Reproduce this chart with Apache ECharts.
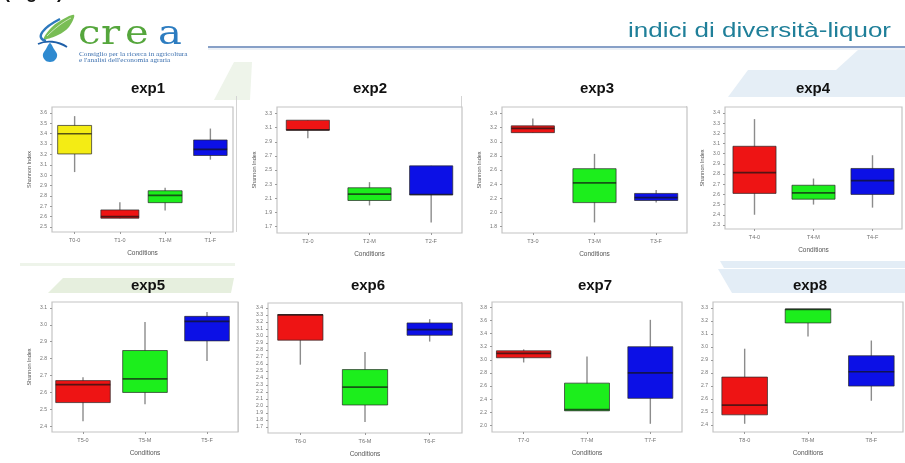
<!DOCTYPE html>
<html>
<head>
<meta charset="utf-8">
<title>indici di diversità-liquor</title>
<script src="https://cdn.jsdelivr.net/npm/echarts@6/dist/echarts.min.js"></script>
<style>
  html, body { margin: 0; padding: 0; background: #ffffff; }
  #chart { width: 905px; height: 463px; }
</style>
</head>
<body>
<div id="chart"></div>
<script>
// Shannon index per condition, one row per box:
// [lower whisker, Q1, median, Q3, upper whisker]
const exp1Conditions = ['T0-0', 'T1-0', 'T1-M', 'T1-F'];
const exp1Stats = [
  [3.03, 3.205, 3.40, 3.48, 3.57],
  [2.585, 2.585, 2.60, 2.665, 2.74],
  [2.66, 2.735, 2.806, 2.85, 2.88],
  [3.15, 3.19, 3.25, 3.34, 3.45]
];
const exp1Ticks = [2.5, 2.6, 2.7, 2.8, 2.9, 3.0, 3.1, 3.2, 3.3, 3.4, 3.5, 3.6];

const exp2Conditions = ['T2-0', 'T2-M', 'T2-F'];
const exp2Stats = [
  [2.95, 3.065, 3.07, 3.206, 3.206],
  [2.00, 2.07, 2.16, 2.25, 2.33],
  [1.76, 2.15, 2.155, 2.56, 2.56]
];
const exp2Ticks = [1.7, 1.9, 2.1, 2.3, 2.5, 2.7, 2.9, 3.1, 3.3];

const exp3Conditions = ['T3-0', 'T3-M', 'T3-F'];
const exp3Stats = [
  [3.13, 3.13, 3.19, 3.226, 3.33],
  [1.86, 2.14, 2.42, 2.62, 2.83],
  [2.14, 2.17, 2.21, 2.27, 2.32]
];
const exp3Ticks = [1.8, 2.0, 2.2, 2.4, 2.6, 2.8, 3.0, 3.2, 3.4];

const exp4Conditions = ['T4-0', 'T4-M', 'T4-F'];
const exp4Stats = [
  [2.40, 2.61, 2.815, 3.073, 3.34],
  [2.50, 2.553, 2.616, 2.69, 2.756],
  [2.47, 2.60, 2.735, 2.855, 2.985]
];
const exp4Ticks = [2.3, 2.4, 2.5, 2.6, 2.7, 2.8, 2.9, 3.0, 3.1, 3.2, 3.3, 3.4];

const exp5Conditions = ['T5-0', 'T5-M', 'T5-F'];
const exp5Stats = [
  [2.43, 2.54, 2.646, 2.67, 2.69],
  [2.53, 2.60, 2.68, 2.848, 3.017],
  [2.786, 2.905, 3.02, 3.05, 3.076]
];
const exp5Ticks = [2.4, 2.5, 2.6, 2.7, 2.8, 2.9, 3.0, 3.1];

const exp6Conditions = ['T6-0', 'T6-M', 'T6-F'];
const exp6Stats = [
  [2.59, 2.94, 3.30, 3.305, 3.305],
  [1.77, 2.014, 2.27, 2.52, 2.77],
  [2.92, 3.01, 3.09, 3.186, 3.24]
];
const exp6Ticks = [1.7, 1.8, 1.9, 2.0, 2.1, 2.2, 2.3, 2.4, 2.5, 2.6, 2.7, 2.8, 2.9, 3.0, 3.1, 3.2, 3.3, 3.4];

const exp7Conditions = ['T7-0', 'T7-M', 'T7-F'];
const exp7Stats = [
  [2.96, 3.032, 3.10, 3.138, 3.16],
  [2.223, 2.223, 2.24, 2.645, 3.05],
  [2.025, 2.413, 2.80, 3.20, 3.61]
];
const exp7Ticks = [2.0, 2.2, 2.4, 2.6, 2.8, 3.0, 3.2, 3.4, 3.6, 3.8];

const exp8Conditions = ['T8-0', 'T8-M', 'T8-F'];
const exp8Stats = [
  [2.41, 2.479, 2.554, 2.769, 2.987],
  [3.08, 3.185, 3.29, 3.292, 3.292],
  [2.587, 2.70, 2.81, 2.933, 3.05]
];
const exp8Ticks = [2.4, 2.5, 2.6, 2.7, 2.8, 2.9, 3.0, 3.1, 3.2, 3.3];

// ---------------------------------------------------------------------------
// Panel layout and styling
const FILL = { control: '#f4ec14', base: '#ee1414', M: '#1cee1c', F: '#0c10e6' };
function fillFor(cond) {
  if (cond === 'T0-0') return FILL.control;
  const s = cond.slice(-1);
  return s === 'M' ? FILL.M : s === 'F' ? FILL.F : FILL.base;
}

const panels = [
  { title: 'exp1', cond: exp1Conditions, stats: exp1Stats, ticks: exp1Ticks,
    grid: { left: 52, top: 107, width: 181, height: 125 }, min: 2.452, max: 3.658,
    yName: true, titleX: 148, titleY: 89, boxW: [0.75, 0.84, 0.75, 0.74] },
  { title: 'exp2', cond: exp2Conditions, stats: exp2Stats, ticks: exp2Ticks,
    grid: { left: 277, top: 107, width: 185, height: 126 }, min: 1.61, max: 3.393,
    yName: true, titleX: 370, titleY: 89, boxW: [0.7, 0.7, 0.7] },
  { title: 'exp3', cond: exp3Conditions, stats: exp3Stats, ticks: exp3Ticks,
    grid: { left: 502, top: 107, width: 185, height: 126 }, min: 1.71, max: 3.493,
    yName: true, titleX: 597, titleY: 89, boxW: [0.7, 0.7, 0.7] },
  { title: 'exp4', cond: exp4Conditions, stats: exp4Stats, ticks: exp4Ticks,
    grid: { left: 725, top: 107, width: 177, height: 122 }, min: 2.26, max: 3.459,
    yName: true, titleX: 813, titleY: 89, boxW: [0.73, 0.73, 0.73] },
  { title: 'exp5', cond: exp5Conditions, stats: exp5Stats, ticks: exp5Ticks,
    grid: { left: 52, top: 302, width: 186, height: 130 }, min: 2.366, max: 3.135,
    yName: true, titleX: 148, titleY: 286, boxW: [0.88, 0.72, 0.72] },
  { title: 'exp6', cond: exp6Conditions, stats: exp6Stats, ticks: exp6Ticks,
    grid: { left: 268, top: 303, width: 194, height: 130 }, min: 1.614, max: 3.471,
    yName: false, titleX: 368, titleY: 286, boxW: [0.7, 0.7, 0.7] },
  { title: 'exp7', cond: exp7Conditions, stats: exp7Stats, ticks: exp7Ticks,
    grid: { left: 492, top: 302, width: 190, height: 130 }, min: 1.90, max: 3.882,
    yName: false, titleX: 595, titleY: 286, boxW: [0.86, 0.71, 0.71] },
  { title: 'exp8', cond: exp8Conditions, stats: exp8Stats, ticks: exp8Ticks,
    grid: { left: 713, top: 302, width: 190, height: 130 }, min: 2.347, max: 3.346,
    yName: false, titleX: 810, titleY: 286, boxW: [0.72, 0.72, 0.72] }
];

// Box + whisker + median drawn through the panel's own axes
function boxRenderer(widths, fills) {
  return function (params, api) {
    const i = params.dataIndex;
    const cat = api.value(0);
    const band = api.size([1, 0])[0];
    const half = band * widths[i] / 2;
    const lo = api.coord([cat, api.value(1)]);
    const q1 = api.coord([cat, api.value(2)]);
    const md = api.coord([cat, api.value(3)]);
    const q3 = api.coord([cat, api.value(4)]);
    const hi = api.coord([cat, api.value(5)]);
    const x = lo[0];
    return {
      type: 'group',
      children: [
        { type: 'line', shape: { x1: x, y1: hi[1], x2: x, y2: lo[1] },
          style: { stroke: '#8c8c8c', lineWidth: 1.4 } },
        { type: 'rect', shape: { x: x - half, y: q3[1], width: half * 2, height: q1[1] - q3[1] },
          style: { fill: fills[i], stroke: 'rgba(40,40,40,0.7)', lineWidth: 1 } },
        { type: 'line', shape: { x1: x - half, y1: md[1], x2: x + half, y2: md[1] },
          style: { stroke: 'rgba(20,20,20,0.7)', lineWidth: 1.7 } }
      ]
    };
  };
}

const grids = [], xAxes = [], yAxes = [], series = [], panelTitles = [];
panels.forEach(function (p, k) {
  grids.push(Object.assign({ show: true, borderColor: '#c4c4c4', borderWidth: 1.2,
    backgroundColor: '#ffffff', containLabel: false }, p.grid));
  xAxes.push({
    gridIndex: k, type: 'category', data: p.cond,
    axisLine: { show: false },
    axisTick: { show: true, alignWithLabel: true, length: 2, lineStyle: { color: '#9a9a9a' } },
    axisLabel: { fontSize: 5.5, color: '#707070', margin: 5, fontFamily: 'Liberation Sans' },
    name: 'Conditions', nameLocation: 'middle', nameGap: 18,
    nameTextStyle: { fontSize: 6.5, color: '#555', fontFamily: 'Liberation Sans' }
  });
  yAxes.push({
    gridIndex: k, type: 'value', min: p.min, max: p.max,
    axisLine: { show: false }, splitLine: { show: false },
    axisTick: { show: true, length: 2, customValues: p.ticks, lineStyle: { color: '#9a9a9a' } },
    axisLabel: { customValues: p.ticks, fontSize: 5, color: '#707070', margin: 5,
      fontFamily: 'Liberation Sans', formatter: function (v) { return v.toFixed(1); } },
    name: p.yName ? 'Shannon Index' : '', nameLocation: 'middle', nameGap: 20, nameRotate: 90,
    nameTextStyle: { fontSize: 5.5, color: '#555', fontFamily: 'Liberation Sans' }
  });
  series.push({
    type: 'custom', xAxisIndex: k, yAxisIndex: k,
    renderItem: boxRenderer(p.boxW, p.cond.map(fillFor)),
    encode: { x: 0, y: [1, 2, 3, 4, 5] },
    data: p.stats.map(function (s, i) { return [i].concat(s); }),
    silent: true, animation: false
  });
  panelTitles.push({
    type: 'text', x: p.titleX, y: p.titleY, z: 10,
    style: { text: p.title, fill: '#111', font: 'bold 15px "Liberation Sans", Arial, sans-serif',
      align: 'center', verticalAlign: 'middle' }
  });
});

// Slide backdrop: pale watermark shapes, header rule, logo and heading
const logoFont = '40px "DejaVu Serif", serif';
const backdrop = [
  { type: 'polygon', z: -20, shape: { points: [[728, 97], [748, 70], [836, 70], [858, 50], [905, 50], [905, 97]] },
    style: { fill: '#e5eef6' } },
  { type: 'polygon', z: -20, shape: { points: [[720, 261], [905, 261], [905, 268], [724, 268]] },
    style: { fill: '#e3edf6' } },
  { type: 'polygon', z: -20, shape: { points: [[718, 269], [905, 269], [905, 293], [732, 293]] },
    style: { fill: '#e3edf6' } },
  { type: 'polygon', z: -20, shape: { points: [[63, 278], [234, 278], [231, 293], [48, 293]] },
    style: { fill: '#e6efde' } },
  { type: 'polygon', z: -20, shape: { points: [[214, 100], [234, 62], [252, 62], [250, 100]] },
    style: { fill: '#eef4ea' } },
  { type: 'rect', z: -20, shape: { x: 20, y: 263, width: 215, height: 3 }, style: { fill: '#eef4ea' } },
  { type: 'line', z: -10, shape: { x1: 236.5, y1: 96, x2: 236.5, y2: 232 }, style: { stroke: '#d4d4d4', lineWidth: 1 } },
  { type: 'line', z: -10, shape: { x1: 461.5, y1: 96, x2: 461.5, y2: 229 }, style: { stroke: '#d4d4d4', lineWidth: 1 } },
  { type: 'line', z: -10, shape: { x1: 686.5, y1: 106, x2: 686.5, y2: 229 }, style: { stroke: '#d4d4d4', lineWidth: 1 } },
  { type: 'line', z: -10, shape: { x1: 238.5, y1: 302, x2: 238.5, y2: 432 }, style: { stroke: '#d4d4d4', lineWidth: 1 } },
  { type: 'line', z: -10, shape: { x1: 461.5, y1: 302, x2: 461.5, y2: 433 }, style: { stroke: '#d4d4d4', lineWidth: 1 } },
  // header rule
  { type: 'line', shape: { x1: 208, y1: 47, x2: 905, y2: 47 }, style: { stroke: '#5f80b4', lineWidth: 1.6 } },
  { type: 'line', shape: { x1: 208, y1: 49, x2: 905, y2: 49 }, style: { stroke: '#dbe3ee', lineWidth: 1 } },
  // heading
  { type: 'text', x: 628, y: 31, scaleX: 1.3, scaleY: 1.05,
    style: { text: 'indici di diversità-liquor', fill: '#1f7f99',
      font: '20px "Liberation Sans", Arial, sans-serif', align: 'left', verticalAlign: 'middle' } },
  // clipped caption at the very top
  { type: 'text', x: 4, y: 2,
    style: { text: '(Fig. 3)', fill: '#111', font: 'bold 18px "Liberation Sans", Arial, sans-serif',
      align: 'left', verticalAlign: 'bottom' } },
  // logo: leaf, ribbon, drop
  { type: 'polygon', shape: { points: [[44, 39], [50, 29], [60, 21], [74, 15], [69, 27], [58, 35]], smooth: 0.35 },
    style: { fill: '#79bd55' } },
  { type: 'bezierCurve', shape: { x1: 47, y1: 36, cpx1: 55, cpy1: 28, cpx2: 63, cpy2: 22, x2: 71, y2: 18 },
    style: { stroke: '#c9e6b6', lineWidth: 1, fill: null } },
  { type: 'bezierCurve', shape: { x1: 60, y1: 19, cpx1: 44, cpy1: 27, cpx2: 34, cpy2: 38, x2: 46, y2: 41 },
    style: { stroke: '#2c78bd', lineWidth: 2.4, fill: null } },
  { type: 'bezierCurve', shape: { x1: 38, y1: 44, cpx1: 46, cpy1: 40, cpx2: 58, cpy2: 41, x2: 67, y2: 47 },
    style: { stroke: '#1e5fa8', lineWidth: 1.8, fill: null } },
  { type: 'polygon', shape: { points: [[50, 43], [54, 49], [57, 54], [56.5, 58], [53, 61.5], [47, 61.5], [43.5, 58], [43, 54], [46, 49]], smooth: 0.3 },
    style: { fill: '#2f8ad0' } },
  // logo lettering
  { type: 'text', x: 78, y: 35, scaleY: 0.82, style: { text: 'c', fill: '#55a63c', font: logoFont, align: 'left', verticalAlign: 'middle' } },
  { type: 'text', x: 101, y: 35, scaleY: 0.82, style: { text: 'r', fill: '#55a63c', font: logoFont, align: 'left', verticalAlign: 'middle' } },
  { type: 'text', x: 125, y: 35, scaleY: 0.82, style: { text: 'e', fill: '#55a63c', font: logoFont, align: 'left', verticalAlign: 'middle' } },
  { type: 'text', x: 158, y: 35, scaleY: 0.82, style: { text: 'a', fill: '#2c7cc0', font: logoFont, align: 'left', verticalAlign: 'middle' } },
  { type: 'text', x: 79, y: 54.5, scaleX: 1.25,
    style: { text: 'Consiglio per la ricerca in agricoltura', fill: '#3b6fae',
      font: '5.8px "Liberation Serif", serif', align: 'left', verticalAlign: 'middle' } },
  { type: 'text', x: 79, y: 60.5, scaleX: 1.25,
    style: { text: "e l'analisi dell'economia agraria", fill: '#3b6fae',
      font: '5.8px "Liberation Serif", serif', align: 'left', verticalAlign: 'middle' } }
];

const chart = echarts.init(document.getElementById('chart'), null, { renderer: 'canvas' });
chart.setOption({
  animation: false,
  backgroundColor: '#ffffff',
  grid: grids,
  xAxis: xAxes,
  yAxis: yAxes,
  series: series,
  graphic: { elements: backdrop.concat(panelTitles) }
});
</script>
</body>
</html>
